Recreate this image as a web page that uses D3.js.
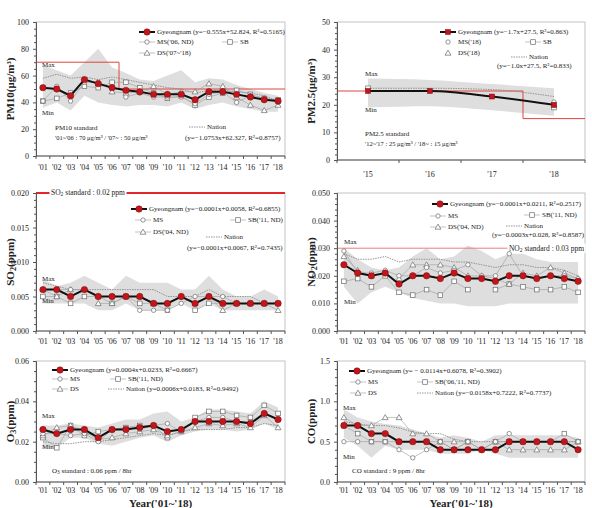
<!DOCTYPE html>
<html><head><meta charset="utf-8">
<script src="https://cdn.jsdelivr.net/npm/d3@7"></script>
<style>
body{margin:0;background:#fff}
svg{display:block}
text{font-family:"Liberation Serif","Times New Roman",serif;fill:#222}
</style>
</head><body>
<svg id="c" width="592" height="508"></svg>
<script>
// ---------------- DATA ----------------
const years = ["'01","'02","'03","'04","'05","'06","'07","'08","'09","'10","'11","'12","'13","'14","'15","'16","'17","'18"];
const pm25Years = ["'15","'16","'17","'18"];

const pm10Gyeongnam = [51,50,45,57,54,51,49,48,46,46,46,42,48,48,46,44,42,41];
const pm10MS = [41,52,41,55,55,null,44,47,44,44,44,39,46,48,40,45,43,40];
const pm10SB = [41,43,47,52,51,55,55,51,47,43,45,38,44,47,49,46,43,42];
const pm10DS = [null,null,null,null,null,48,47,48,52,46,48,48,54,52,44,38,34,38];
const pm10Nation = [58,61,58,59,57,59,57,55,53,51,50,47,49,49,48,47,45,41];
const pm10Max = [68,64,60,70,80,66,62,57,56,60,64,55,58,57,53,50,47,45];
const pm10Min = [36,40,34,45,40,38,37,38,38,37,40,35,38,40,37,35,33,33];
const pm10Standard = [70,50];
const pm10Ticks = [0,20,40,60,80,100];

const pm25Gyeongnam = [25,25,23,20];
const pm25MS = [null,null,null,21];
const pm25SB = [26,null,null,19];
const pm25DS = [null,null,null,20];
const pm25Nation = [26,26,25.5,23];
const pm25Max = [29.5,29,27.5,26];
const pm25Min = [19,19.5,18,16];
const pm25Standard = [25,15];
const pm25Ticks = [0,10,20,30,40,50];

const so2Gyeongnam = [0.006,0.006,0.005,0.006,0.005,0.005,0.005,0.005,0.004,0.004,0.005,0.004,0.005,0.004,0.004,0.004,0.004,0.004];
const so2MS = [0.006,0.006,0.006,0.006,0.005,0.005,0.005,0.003,0.003,0.003,0.004,0.005,0.005,0.005,0.004,0.004,0.004,0.004];
const so2SB = [0.005,0.005,0.004,0.005,0.005,0.004,0.005,0.004,0.004,0.003,null,0.003,0.004,0.004,0.004,0.004,0.004,0.004];
const so2DS = [0.006,0.005,0.006,null,0.004,0.004,0.005,0.005,0.004,0.004,0.005,0.004,0.005,0.003,0.004,0.004,0.004,0.003];
const so2Nation = [0.007,0.0065,0.006,0.006,0.006,0.006,0.006,0.006,0.006,0.005,0.005,0.005,0.006,0.005,0.005,0.005,0.004,0.004];
const so2Max = [0.0075,0.0065,0.007,0.008,0.007,0.006,0.008,0.007,0.007,0.007,0.006,0.006,0.008,0.006,0.005,0.005,0.006,0.005];
const so2Min = [0.004,0.004,0.004,0.004,0.003,0.003,0.004,0.003,0.003,0.003,0.004,0.003,0.004,0.003,0.003,0.003,0.003,0.003];
const so2Standard = [0.02];
const so2Ticks = [0,0.005,0.010,0.015,0.020];

const no2Gyeongnam = [0.024,0.021,0.020,0.021,0.017,0.020,0.020,0.019,0.021,0.019,0.019,0.018,0.020,0.020,0.019,0.020,0.019,0.018];
const no2MS = [0.029,0.021,0.021,0.022,0.020,0.020,0.023,0.021,0.022,0.024,0.020,0.020,0.028,0.020,0.019,0.020,0.020,0.019];
const no2SB = [0.018,0.019,0.016,0.020,0.014,0.013,0.015,0.013,0.018,0.015,null,0.015,0.017,0.016,0.015,0.015,0.016,0.014];
const no2DS = [0.027,0.022,0.020,null,0.019,0.024,0.024,0.024,0.023,0.020,0.020,0.019,0.017,0.021,0.020,0.023,0.021,0.019];
const no2Nation = [0.028,0.026,0.026,0.027,0.025,0.026,0.026,0.026,0.025,0.025,0.024,0.023,0.024,0.024,0.023,0.023,0.022,0.020];
const no2Max = [0.030,0.026,0.023,0.022,0.023,0.027,0.030,0.026,0.027,0.031,0.029,0.026,0.028,0.028,0.026,0.025,0.025,0.025];
const no2Min = [0.016,0.010,0.014,0.016,0.014,0.012,0.011,0.010,0.010,0.009,0.009,0.009,0.010,0.010,0.010,0.010,0.010,0.010];
const no2Standard = [0.03];
const no2Ticks = [0,0.010,0.020,0.030,0.040,0.050];

const o3Gyeongnam = [0.026,0.024,0.026,0.026,0.022,0.026,0.026,0.027,0.028,0.025,0.026,0.030,0.030,0.030,0.030,0.029,0.034,0.031];
const o3MS = [0.024,0.024,0.023,0.024,0.020,0.026,0.027,0.026,0.028,0.029,0.025,0.030,0.032,0.032,0.030,0.030,0.034,0.031];
const o3SB = [0.022,0.017,0.028,0.023,0.025,0.026,0.027,0.028,0.028,0.022,null,0.032,0.035,0.035,0.033,0.032,0.038,0.034];
const o3DS = [0.023,0.027,0.028,0.025,0.021,0.022,0.024,0.025,0.026,0.023,0.025,0.027,0.029,0.028,0.029,0.027,0.033,0.027];
const o3Nation = [0.020,0.019,0.019,0.020,0.020,0.021,0.022,0.023,0.024,0.023,0.025,0.026,0.026,0.026,0.027,0.027,0.029,0.028];
const o3Max = [0.028,0.028,0.029,0.028,0.027,0.029,0.031,0.031,0.034,0.035,0.030,0.032,0.036,0.036,0.035,0.034,0.040,0.037];
const o3Min = [0.017,0.017,0.022,0.022,0.019,0.018,0.020,0.022,0.023,0.020,0.023,0.025,0.026,0.026,0.025,0.026,0.029,0.026];
const o3Ticks = [0,0.02,0.04,0.06];

const coGyeongnam = [0.7,0.7,0.6,0.6,0.5,0.5,0.5,0.4,0.4,0.4,0.4,0.4,0.5,0.5,0.5,0.5,0.5,0.4];
const coMS = [0.5,0.5,0.5,0.5,0.4,0.3,0.4,0.5,0.4,0.5,0.4,0.5,0.6,0.5,0.5,0.5,0.5,0.5];
const coSB = [0.7,0.6,0.5,0.5,0.5,null,0.5,0.5,0.4,0.5,null,0.5,0.5,0.5,0.5,0.5,0.6,0.5];
const coDS = [0.8,0.7,0.7,0.8,0.8,0.6,0.6,0.5,0.5,0.5,0.4,0.5,0.4,0.4,0.4,0.4,0.4,0.5];
const coNation = [0.75,0.72,0.70,0.70,0.67,0.62,0.60,0.60,0.53,0.50,0.50,0.50,0.50,0.50,0.50,0.50,0.50,0.50];
const coMax = [0.9,0.8,0.75,0.72,0.70,0.65,0.60,0.55,0.58,0.55,0.50,0.58,0.58,0.58,0.58,0.58,0.58,0.55];
const coMin = [0.55,0.45,0.30,0.45,0.40,0.40,0.40,0.35,0.35,0.35,0.40,0.35,0.30,0.30,0.30,0.30,0.30,0.30];
const coTicks = [0,0.5,1.0,1.5];

// ---------------- DRAWING ----------------
const svg = d3.select("#c");
const RED = "#c3161c";
const GRAYLINE = "#9a9a9a";
const MARK = "#6a6a6a";
const LFS = 7; // legend font size

// writes text, turning "_2" / "_3" into subscript tspans
function rich(t, str) {
  const parts = str.split(/(_[0-9])/);
  parts.forEach(p => {
    if (!p) return;
    if (/^_[0-9]$/.test(p)) {
      t.append("tspan").attr("baseline-shift", "-20%").attr("font-size", "75%").text(p[1]);
    } else {
      t.append("tspan").text(p);
    }
  });
  return t;
}

function marker(g, type, cx, cy) {
  if (type === "circle") {
    g.append("circle").attr("cx", cx).attr("cy", cy).attr("r", 2.2)
      .attr("fill", "#fff").attr("stroke", MARK).attr("stroke-width", 0.7);
  } else if (type === "square") {
    g.append("rect").attr("x", cx - 2.3).attr("y", cy - 2.3).attr("width", 4.6).attr("height", 4.6)
      .attr("fill", "#fff").attr("stroke", MARK).attr("stroke-width", 0.7);
  } else if (type === "triangle") {
    g.append("path").attr("d", d3.symbol(d3.symbolTriangle, 15)()).attr("transform", `translate(${cx},${cy + 0.5})`)
      .attr("fill", "#fff").attr("stroke", MARK).attr("stroke-width", 0.7);
  } else if (type === "red") {
    g.append("circle").attr("cx", cx).attr("cy", cy).attr("r", 3.2)
      .attr("fill", RED).attr("stroke", "#7a0b0b").attr("stroke-width", 0.5);
  } else if (type === "redsq") {
    g.append("rect").attr("x", cx - 2.5).attr("y", cy - 2.5).attr("width", 5).attr("height", 5)
      .attr("fill", RED).attr("stroke", "#7a0b0b").attr("stroke-width", 0.5);
  }
}

function drawPanel(c) {
  const g = svg.append("g");
  const x = d3.scaleBand().domain(c.cats).range([c.left, c.right]);
  const y = d3.scaleLinear().domain([0, c.ymax]).range([c.bottom, c.top]);
  const px = k => x(k) + x.bandwidth() / 2;
  const curve = c.smooth ? d3.curveMonotoneX : d3.curveLinear;
  const rows = c.cats.map((k, i) => ({ k, i }));

  // band
  g.append("path").datum(rows)
    .attr("d", d3.area().x(d => px(d.k)).y0(d => y(c.min[d.i])).y1(d => y(c.max[d.i])).curve(curve))
    .attr("fill", "#dedede");

  // frame
  g.append("rect").attr("x", c.left).attr("y", c.top).attr("width", c.right - c.left).attr("height", c.bottom - c.top)
    .attr("fill", "none").attr("stroke", "#b5b5b5").attr("stroke-width", 0.8);

  // standard lines
  if (c.stdStep) {
    const xb = x(c.stdStep.at);
    g.append("path")
      .attr("d", `M${c.left},${y(c.std[0])}H${xb}V${y(c.std[1])}H${c.right}`)
      .attr("fill", "none").attr("stroke", "#e0443e").attr("stroke-width", 1);
  }
  if (c.stdFlat) {
    g.append("line").attr("x1", c.left).attr("x2", c.right).attr("y1", y(c.std[0])).attr("y2", y(c.std[0]))
      .attr("stroke", c.stdFlat.color).attr("stroke-width", c.stdFlat.w);
    const t = g.append("text").attr("x", c.stdFlat.tx).attr("y", y(c.std[0])).attr("dy", "0.33em")
      .attr("font-size", 7.5).attr("text-anchor", c.stdFlat.anchor || "start");
    rich(t, c.stdFlat.label);
    const bb = t.node().getBBox();
    g.insert("rect", function () { return t.node(); })
      .attr("x", bb.x - 1.5).attr("y", bb.y).attr("width", bb.width + 3).attr("height", bb.height).attr("fill", "#fff");
  }

  // nation (dotted)
  const line = arr => d3.line().defined(d => arr[d.i] != null).x(d => px(d.k)).y(d => y(arr[d.i])).curve(curve);
  g.append("path").datum(rows).attr("d", line(c.nation))
    .attr("fill", "none").attr("stroke", "#8a8a8a").attr("stroke-width", 0.9).attr("stroke-dasharray", "1.5,1");

  // sub-regions
  [[c.sb, "square"], [c.ds, "triangle"], [c.ms, "circle"]].forEach(([arr, type]) => {
    g.append("path").datum(rows).attr("d", line(arr))
      .attr("fill", "none").attr("stroke", GRAYLINE).attr("stroke-width", 0.6);
    rows.forEach(d => { if (arr[d.i] != null) marker(g, type, px(d.k), y(arr[d.i])); });
  });

  // Gyeongnam
  g.append("path").datum(rows).attr("d", line(c.gn))
    .attr("fill", "none").attr("stroke", "#111").attr("stroke-width", 2);
  rows.forEach(d => marker(g, c.smooth ? "redsq" : "red", px(d.k), y(c.gn[d.i])));

  // y axis
  const ya = g.append("g").attr("transform", `translate(${c.left},0)`)
    .call(d3.axisLeft(y).tickValues(c.ticks).tickSize(3).tickPadding(4).tickFormat(c.fmt));
  const minor = [];
  for (let i = 0; i < c.ticks.length - 1; i++) {
    const a = c.ticks[i], b = c.ticks[i + 1];
    for (let j = 1; j < c.minorN; j++) minor.push(a + (b - a) * j / c.minorN);
  }
  g.append("g").attr("transform", `translate(${c.left},0)`)
    .call(d3.axisLeft(y).tickValues(minor).tickSize(2).tickFormat(""))
    .call(s => s.select(".domain").remove());
  g.selectAll(".tick line").attr("stroke", "#555");
  ya.select(".domain").attr("stroke", "#555");
  ya.selectAll("text").attr("font-size", 8).attr("fill", "#333")
    .attr("font-family", "'Liberation Serif',serif");

  // x axis
  g.append("line").attr("x1", c.left).attr("x2", c.right).attr("y1", c.bottom).attr("y2", c.bottom).attr("stroke", "#555");
  c.cats.map(k => x(k)).concat([c.right]).forEach(v => {
    g.append("line").attr("x1", v).attr("x2", v).attr("y1", c.bottom).attr("y2", c.bottom + 3).attr("stroke", "#555");
  });
  c.cats.forEach(k => {
    g.append("text").attr("x", px(k)).attr("y", c.xLabelY).attr("dy", "0.35em")
      .attr("text-anchor", "middle").attr("font-size", 8).attr("fill", "#333").text(k);
  });

  // y title
  const yt = g.append("text").attr("transform", `translate(${c.titleX},${(c.top + c.bottom) / 2}) rotate(-90)`)
    .attr("text-anchor", "middle").attr("font-size", 11).attr("font-weight", "bold");
  rich(yt, c.title);

  if (c.xTitle) {
    g.append("text").attr("x", (c.left + c.right) / 2).attr("y", 503).attr("dy", "0.35em")
      .attr("text-anchor", "middle").attr("font-size", 11).attr("font-weight", "bold").text(c.xTitle);
  }

  // annotations
  c.notes.forEach(n => {
    const t = g.append("text").attr("x", n[0]).attr("y", n[1]).attr("dy", "0.35em")
      .attr("font-size", n[3] || LFS);
    rich(t, n[2]);
  });

  // legend
  c.legend.forEach(L => {
    const lg = g.append("g");
    if (L.type === "gn") {
      lg.append("line").attr("x1", L.x).attr("x2", L.x + 16).attr("y1", L.y).attr("y2", L.y)
        .attr("stroke", "#111").attr("stroke-width", 2);
      marker(lg, c.smooth ? "redsq" : "red", L.x + 8, L.y);
    } else if (L.type === "nation") {
      lg.append("line").attr("x1", L.x).attr("x2", L.x + 16).attr("y1", L.y).attr("y2", L.y)
        .attr("stroke", "#8a8a8a").attr("stroke-width", 0.9).attr("stroke-dasharray", "1.5,1");
    } else {
      if (!L.noLine) {
        lg.append("line").attr("x1", L.x).attr("x2", L.x + 16).attr("y1", L.y).attr("y2", L.y)
          .attr("stroke", GRAYLINE).attr("stroke-width", 0.6);
      }
      marker(lg, L.type, L.x + 8, L.y);
    }
    lg.append("text").attr("x", L.x + 18).attr("y", L.y).attr("dy", "0.35em").attr("font-size", LFS).text(L.label);
  });
}

const fmt3 = d => d3.format(".3f")(d);

drawPanel({
  cats: years, left: 36, right: 285, top: 22, bottom: 156, ymax: 100,
  gn: pm10Gyeongnam, ms: pm10MS, sb: pm10SB, ds: pm10DS, nation: pm10Nation, max: pm10Max, min: pm10Min,
  std: pm10Standard, stdStep: { at: "'07" },
  ticks: pm10Ticks, minorN: 4, fmt: d3.format("d"), xLabelY: 167, titleX: 14, title: "PM10(μg/m³)",
  notes: [[42, 65, "Max"], [42, 113, "Min"], [55, 128, "PM10 standard"],
          [55, 137.5, "'01~'06 : 70 μg/m³  /  '07~ : 50 μg/m³", 6.5],
          [185, 137.5, "(y=−1.0753x+62.327, R²=0.8757)"]],
  legend: [{ type: "gn", x: 139, y: 32, label: "Gyeongnam (y=−0.555x+52.824, R²=0.5165)" },
           { type: "circle", x: 139, y: 42, label: "MS('06, ND)" },
           { type: "square", x: 222, y: 42, label: "SB" },
           { type: "triangle", x: 139, y: 53, label: "DS('07~'18)" },
           { type: "nation", x: 189, y: 127, label: "Nation" }]
});

drawPanel({
  cats: pm25Years, left: 337, right: 585, top: 22, bottom: 160, ymax: 50, smooth: true,
  gn: pm25Gyeongnam, ms: pm25MS, sb: pm25SB, ds: pm25DS, nation: pm25Nation, max: pm25Max, min: pm25Min,
  std: pm25Standard, stdStep: { at: "'18" },
  ticks: pm25Ticks, minorN: 5, fmt: d3.format("d"), xLabelY: 174, titleX: 315, title: "PM2.5(μg/m³)",
  notes: [[365, 74, "Max"], [365, 110, "Min"], [365, 134, "PM2.5 standard"],
          [365, 144, "'12~'17 : 25 μg/m³  /  '18~ : 15 μg/m³", 6.5],
          [497, 66, "(y=−1.0x+27.5, R²=0.833)"]],
  legend: [{ type: "gn", x: 440, y: 32, label: "Gyeongnam (y=−1.7x+27.5, R²=0.863)" },
           { type: "circle", x: 440, y: 42, label: "MS('18)", noLine: true },
           { type: "square", x: 525, y: 42, label: "SB" },
           { type: "triangle", x: 440, y: 53, label: "DS('18)", noLine: true },
           { type: "nation", x: 511, y: 57, label: "Nation" }]
});

drawPanel({
  cats: years, left: 36, right: 285, top: 193, bottom: 331, ymax: 0.02,
  gn: so2Gyeongnam, ms: so2MS, sb: so2SB, ds: so2DS, nation: so2Nation, max: so2Max, min: so2Min,
  std: so2Standard, stdFlat: { color: "#e3262b", w: 2, tx: 51, label: "SO_2 standard : 0.02 ppm" },
  ticks: so2Ticks, minorN: 5, fmt: fmt3, xLabelY: 341, titleX: 14, title: "SO_2(ppm)",
  notes: [[42, 279, "Max"], [42, 301, "Min"], [187, 248, "(y=−0.0001x+0.0067, R²=0.7435)"]],
  legend: [{ type: "gn", x: 131, y: 209, label: "Gyeongnam  (y=−0.0001x+0.0058, R²=0.6855)" },
           { type: "circle", x: 135, y: 220, label: "MS" },
           { type: "square", x: 230, y: 220, label: "SB('11, ND)" },
           { type: "triangle", x: 135, y: 232, label: "DS('04, ND)" },
           { type: "nation", x: 206, y: 237, label: "Nation" }]
});

drawPanel({
  cats: years, left: 337, right: 585, top: 193, bottom: 331, ymax: 0.05,
  gn: no2Gyeongnam, ms: no2MS, sb: no2SB, ds: no2DS, nation: no2Nation, max: no2Max, min: no2Min,
  std: no2Standard, stdFlat: { color: "#f07a7a", w: 1, tx: 584, anchor: "end", label: "NO_2 standard : 0.03 ppm" },
  ticks: no2Ticks, minorN: 5, fmt: fmt3, xLabelY: 341, titleX: 315, title: "NO_2(ppm)",
  notes: [[344, 242, "Max"], [344, 302, "Min"], [492, 235, "(y=−0.0003x+0.028, R²=0.8587)"]],
  legend: [{ type: "gn", x: 432, y: 204, label: "Gyeongnam  (y=−0.0001x+0.0211, R²=0.2517)" },
           { type: "circle", x: 430, y: 216, label: "MS" },
           { type: "square", x: 524, y: 215, label: "SB('11, ND)" },
           { type: "triangle", x: 430, y: 227, label: "DS('04, ND)" },
           { type: "nation", x: 506, y: 226, label: "Nation" }]
});

drawPanel({
  cats: years, left: 36, right: 285, top: 361, bottom: 482, ymax: 0.06,
  gn: o3Gyeongnam, ms: o3MS, sb: o3SB, ds: o3DS, nation: o3Nation, max: o3Max, min: o3Min,
  ticks: o3Ticks, minorN: 4, fmt: d3.format(".2f"), xLabelY: 490, titleX: 14, title: "O_3(ppm)",
  xTitle: "Year('01~'18)",
  notes: [[42, 416, "Max"], [42, 447, "Min"], [52, 470.5, "O_3 standard : 0.06 ppm / 8hr", 7]],
  legend: [{ type: "gn", x: 52, y: 370, label: "Gyeongnam  (y=0.0004x+0.0233, R²=0.6667)" },
           { type: "circle", x: 52, y: 379, label: "MS" },
           { type: "square", x: 110, y: 379, label: "SB('11, ND)" },
           { type: "triangle", x: 52, y: 389, label: "DS" },
           { type: "nation", x: 108, y: 389, label: "Nation (y=0.0006x+0.0183, R²=0.9492)" }]
});

drawPanel({
  cats: years, left: 337, right: 585, top: 361, bottom: 482, ymax: 1.5,
  gn: coGyeongnam, ms: coMS, sb: coSB, ds: coDS, nation: coNation, max: coMax, min: coMin,
  ticks: coTicks, minorN: 5, fmt: d3.format(".1f"), xLabelY: 490, titleX: 315, title: "CO(ppm)",
  xTitle: "Year('01~'18)",
  notes: [[343, 408, "Max"], [343, 457, "Min"], [352, 471, "CO standard : 9 ppm / 8hr", 7]],
  legend: [{ type: "gn", x: 349, y: 371, label: "Gyeongnam  (y= − 0.0114x+0.6078, R²=0.3902)" },
           { type: "circle", x: 350, y: 382, label: "MS" },
           { type: "square", x: 417, y: 382, label: "SB('06,'11, ND)" },
           { type: "triangle", x: 350, y: 393, label: "DS" },
           { type: "nation", x: 417, y: 393, label: "Nation  (y=−0.0158x+0.7222, R²=0.7737)" }]
});
</script>
</body></html>
